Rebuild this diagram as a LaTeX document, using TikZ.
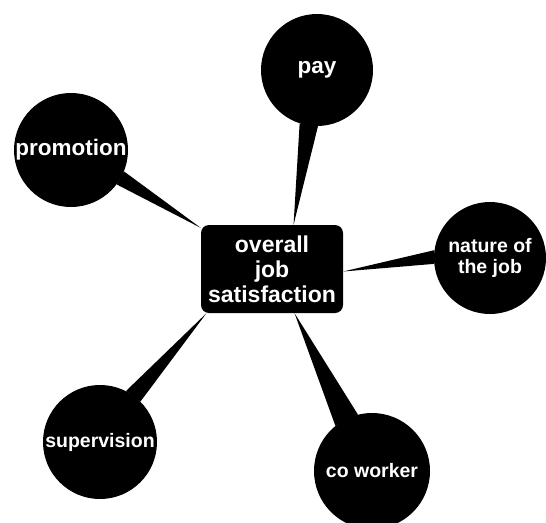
\documentclass[tikz,border=0pt]{standalone}
\usepackage{fontspec}
\setmainfont{Liberation Sans}

\tikzset{
  bubble/.style={circle, fill=black, inner sep=0pt, minimum size=#1},
  word/.style={text=white, font=\bfseries\fontsize{19.5}{21}\selectfont, align=center},
  bigword/.style={word, font=\bfseries\fontsize{22.5}{24}\selectfont},
}

\begin{document}
\begin{tikzpicture}[x=1pt, y=-1pt]

    % Frame
    \useasboundingbox (0,0) rectangle (546,522);

    % Middle box
    \node[fill=black, rounded corners=8pt, minimum width=142pt, minimum height=88pt,
          word, font=\bfseries\fontsize{23}{25}\selectfont] (job) at (272,269)
          {overall\\job\\satisfaction};

    % Circles round it
    \node[bubble=112pt, label={[bigword]center:pay}] (pay) at (317,70) {};
    \node[bubble=114pt, label={[bigword]center:promotion}] (promotion) at (71,150) {};
    \node[bubble=112pt, label={[word]center:nature of\\the job}] (nature) at (490,258) {};
    \node[bubble=114pt, label={[word]center:supervision}] (supervision) at (100,442) {};
    \node[bubble=116pt, label={[word]center:co worker}] (coworker) at (372,471) {};

    % Tapered spokes
    \fill (pay.-108) -- (job.64) -- (pay.-89) -- cycle;
    \fill (promotion.-37) -- (job.150) -- (promotion.-22) -- cycle;
    \fill (nature.172) -- (job.-2) -- (nature.186) -- cycle;
    \fill (supervision.45) -- (job.214) -- (supervision.63) -- cycle;
    \fill (coworker.104) -- (job.-63) -- (coworker.129) -- cycle;

\end{tikzpicture}
\end{document}
